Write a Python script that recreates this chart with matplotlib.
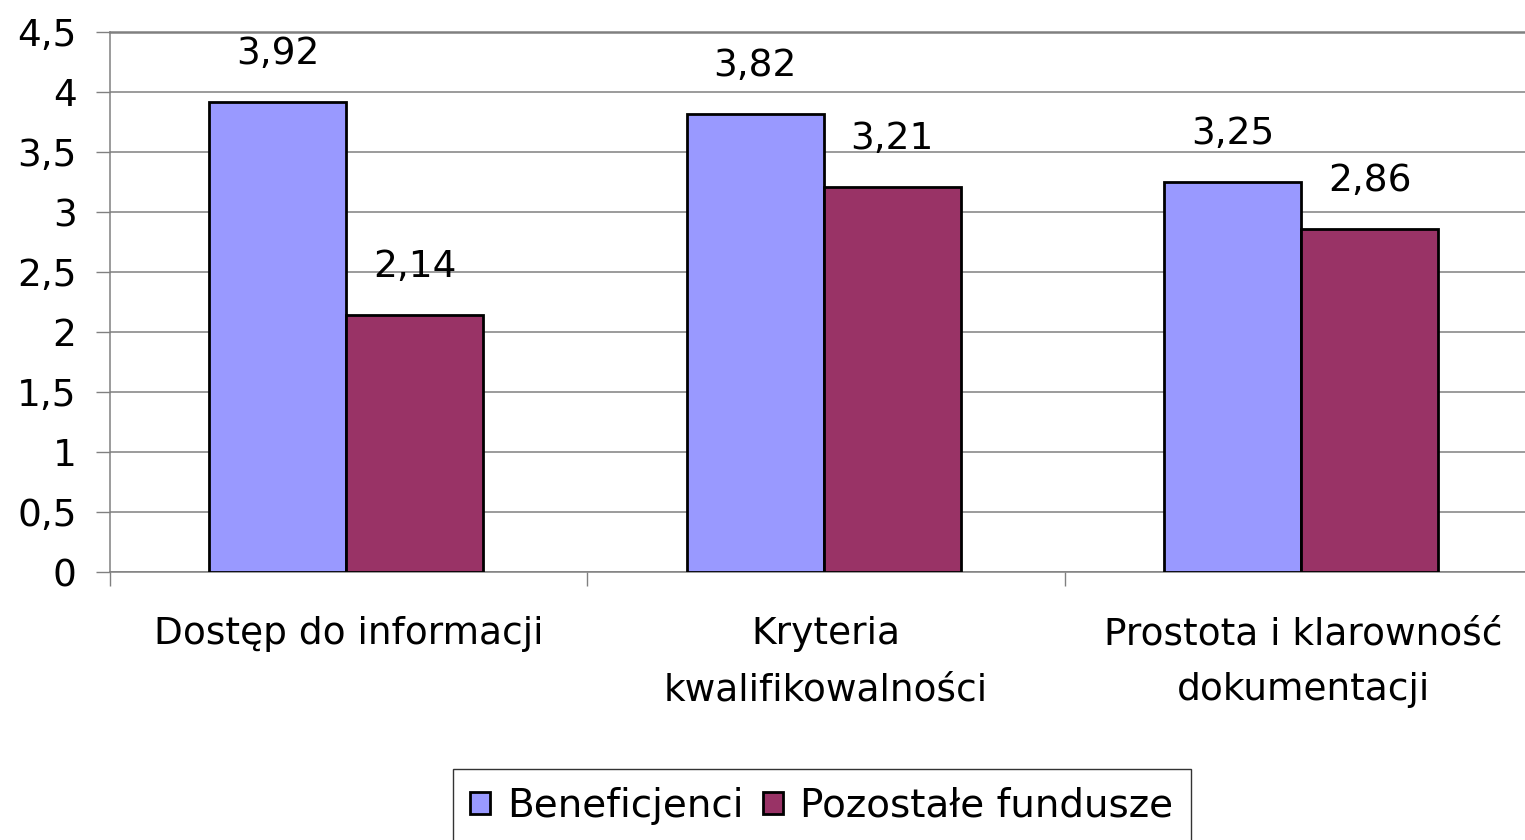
import numpy as np
import matplotlib.pyplot as plt
import matplotlib.ticker

categories = ["Dostęp do informacji", "Kryteria\nkwalifikowalności", "Prostota i klarowność\ndokumentacji"]
series_names = ["Beneficjenci", "Pozostałe fundusze"]
beneficjenci = [3.92, 3.82, 3.25]
pozostale = [2.14, 3.21, 2.86]
y_ticks = [0, 0.5, 1, 1.5, 2, 2.5, 3, 3.5, 4, 4.5]

colors = ["#9999FF", "#993366"]
grid_color = "#808080"
font_size = 27

plt.rcParams['font.family'] = ['DejaVu Sans']

fig = plt.figure(figsize=(15.25, 8.4), dpi=100)
ax = fig.add_axes([0.0721, 0.319, 0.9393, 0.6429])

x = np.arange(len(categories))
width = 0.287

bars = []
for i, (vals, name) in enumerate(zip([beneficjenci, pozostale], series_names)):
    offset = (i - 0.5) * width - 0.005
    b = ax.bar(x + offset, vals, width, color=colors[i], edgecolor="black",
               linewidth=2.0, label=name, zorder=3)
    bars.append(b)
    for rect, v in zip(b, vals):
        ax.annotate(f"{v:.2f}".replace(".", ","),
                    xy=(rect.get_x() + rect.get_width() / 2, v),
                    xytext=(0, 34.5), textcoords="offset points",
                    ha="center", va="center", fontsize=font_size, zorder=4)

# axes limits and ticks
ax.set_xlim(-0.5, 2.5)
ax.set_ylim(0, 4.5)
ax.set_yticks(y_ticks)
ax.set_yticklabels([f"{t:g}".replace(".", ",") for t in y_ticks], fontsize=font_size)

ax.xaxis.set_major_locator(matplotlib.ticker.FixedLocator([-0.5, 0.5, 1.5, 2.5]))
ax.xaxis.set_major_formatter(matplotlib.ticker.NullFormatter())
ax.xaxis.set_minor_locator(matplotlib.ticker.FixedLocator(x))
ax.xaxis.set_minor_formatter(matplotlib.ticker.FixedFormatter(categories))
for lbl in ax.xaxis.get_minorticklabels():
    lbl.set_fontsize(font_size)
    lbl.set_linespacing(1.7)

ax.tick_params(axis="x", which="major", length=10, width=1, color=grid_color, direction="out")
ax.tick_params(axis="x", which="minor", length=0, pad=32)
ax.tick_params(axis="y", which="major", length=10, width=1, color=grid_color,
               direction="out", pad=14)

ax.yaxis.grid(True, color=grid_color, linewidth=1.1, zorder=0)
ax.set_axisbelow(True)

for side in ["left", "bottom"]:
    ax.spines[side].set_color(grid_color)
    ax.spines[side].set_linewidth(1.1)
ax.spines["top"].set_color(grid_color)
ax.spines["top"].set_linewidth(1.8)
ax.spines["right"].set_visible(False)

leg = fig.legend(handles=bars, labels=series_names, loc="upper center",
                 bbox_to_anchor=(0.539, 0.0845), ncol=2, fontsize=28,
                 frameon=True, fancybox=False, shadow=False, edgecolor="black",
                 handlelength=0.5, handleheight=0.5, handletextpad=0.45,
                 columnspacing=0.5, borderpad=0.45, borderaxespad=0)
leg.get_frame().set_linewidth(1.0)

plt.savefig("out.png", dpi=100)
